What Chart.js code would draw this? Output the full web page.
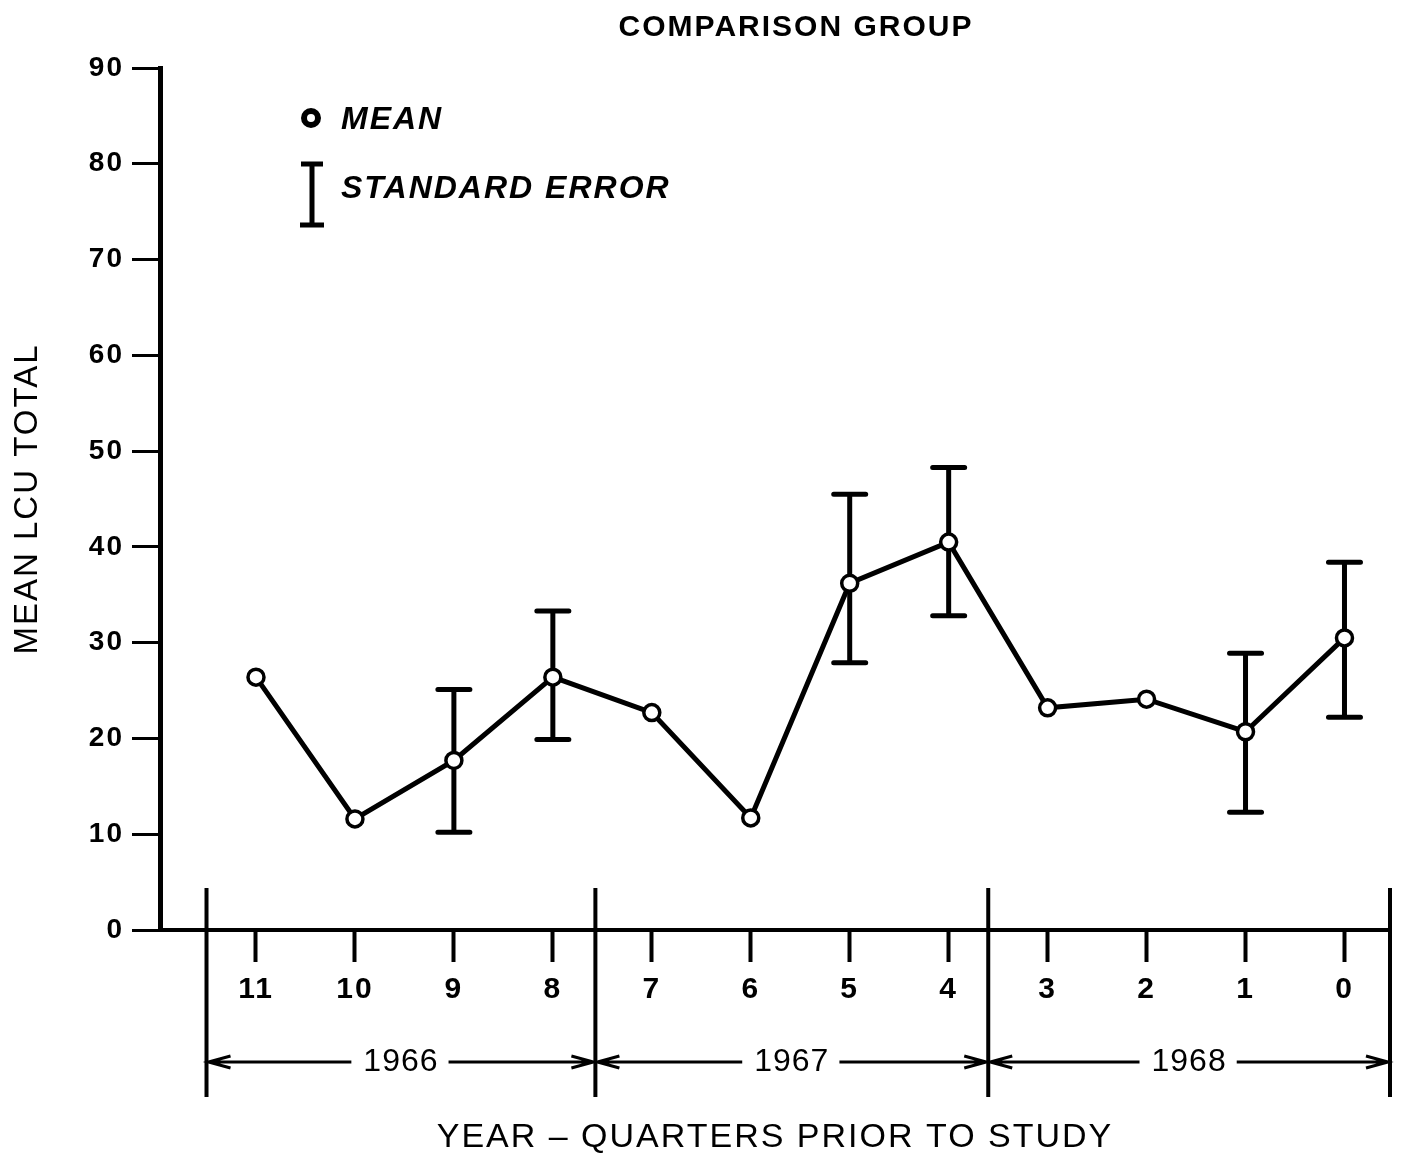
<!DOCTYPE html>
<html>
<head>
<meta charset="utf-8">
<script src="https://cdn.jsdelivr.net/npm/chart.js@4/dist/chart.umd.min.js"></script>
<style>
  html, body { margin: 0; padding: 0; background: #fff; }
  canvas { display: block; }
</style>
</head>
<body>
<canvas id="chart" width="1402" height="1160"></canvas>
<script>
// quarters prior to study, left to right
const quarters = ['11', '10', '9', '8', '7', '6', '5', '4', '3', '2', '1', '0'];
const means  = [26.4, 11.6, 17.7, 26.4, 22.7, 11.7, 36.2, 40.5, 23.2, 24.1, 20.7, 30.5];
const seHigh = [null, null, 25.1, 33.3, null, null, 45.5, 48.3, null, null, 28.9, 38.4];
const seLow  = [null, null, 10.2, 19.9, null, null, 27.9, 32.8, null, null, 12.3, 22.2];
const years = ['1966', '1967', '1968'];
const yearBounds = [-0.5, 3.43, 7.4, 11.46];

const FONT = '"Liberation Sans", Arial, sans-serif';
Chart.defaults.font.family = FONT;
Chart.defaults.color = '#000';

const paperPlugin = {
  id: 'paper',
  beforeLayout(chart) { chart.ctx.letterSpacing = '2px'; },
  beforeDraw(chart) {
    const ctx = chart.ctx;
    ctx.letterSpacing = '2px';
    ctx.save();
    ctx.fillStyle = '#fff';
    ctx.fillRect(0, 0, chart.width, chart.height);
    ctx.restore();
  },
  beforeDatasetsDraw(chart) {
    // standard error bars
    const ctx = chart.ctx;
    const x = chart.scales.x, y = chart.scales.y;
    ctx.save();
    ctx.strokeStyle = '#000';
    ctx.lineWidth = 5;
    ctx.lineCap = 'round';
    seHigh.forEach((hi, i) => {
      if (hi == null) return;
      const px = x.getPixelForValue(i);
      const top = y.getPixelForValue(hi);
      const bot = y.getPixelForValue(seLow[i]);
      ctx.beginPath();
      ctx.moveTo(px, top); ctx.lineTo(px, bot);
      ctx.moveTo(px - 16, top); ctx.lineTo(px + 16, top);
      ctx.moveTo(px - 16, bot); ctx.lineTo(px + 16, bot);
      ctx.stroke();
    });
    ctx.restore();
  },
  afterDraw(chart) {
    const ctx = chart.ctx;
    const x = chart.scales.x;
    ctx.save();
    ctx.fillStyle = '#000';
    ctx.strokeStyle = '#000';

    // title
    ctx.letterSpacing = '2px';
    ctx.font = 'bold 30px ' + FONT;
    ctx.textAlign = 'center';
    ctx.textBaseline = 'middle';
    ctx.fillText('COMPARISON GROUP', 796, 28);

    // legend
    ctx.lineWidth = 6;
    ctx.fillStyle = '#fff';
    ctx.beginPath();
    ctx.arc(311, 118, 7, 0, Math.PI * 2);
    ctx.fill(); ctx.stroke();
    ctx.fillStyle = '#000';
    ctx.lineWidth = 5;
    ctx.beginPath();
    ctx.moveTo(312, 164); ctx.lineTo(312, 225);
    ctx.moveTo(301, 164); ctx.lineTo(323, 164);
    ctx.moveTo(300, 225); ctx.lineTo(324, 225);
    ctx.stroke();
    ctx.font = 'italic bold 32px ' + FONT;
    ctx.textAlign = 'left';
    ctx.fillText('MEAN', 341, 120);
    ctx.fillText('STANDARD ERROR', 341, 189);

    // year brackets
    const rowY = 1062;
    ctx.lineWidth = 4;
    ctx.beginPath();
    yearBounds.forEach(b => {
      const px = x.getPixelForValue(b);
      ctx.moveTo(px, 888); ctx.lineTo(px, 1097);
    });
    ctx.stroke();

    ctx.letterSpacing = '1px';
    ctx.font = '32px ' + FONT;
    ctx.textAlign = 'center';
    ctx.lineWidth = 3;
    years.forEach((yr, k) => {
      const x0 = x.getPixelForValue(yearBounds[k]) + 2;
      const x1 = x.getPixelForValue(yearBounds[k + 1]) - 2;
      const cx = (x0 + x1) / 2;
      const w = ctx.measureText(yr).width;
      ctx.fillText(yr, cx, rowY);
      ctx.beginPath();
      ctx.moveTo(x0, rowY); ctx.lineTo(cx - w / 2 - 12, rowY);
      ctx.moveTo(cx + w / 2 + 10, rowY); ctx.lineTo(x1, rowY);
      ctx.moveTo(x0 + 22, rowY - 6); ctx.lineTo(x0, rowY); ctx.lineTo(x0 + 22, rowY + 6);
      ctx.moveTo(x1 - 22, rowY - 6); ctx.lineTo(x1, rowY); ctx.lineTo(x1 - 22, rowY + 6);
      ctx.stroke();
    });
    ctx.restore();
  }
};

new Chart(document.getElementById('chart'), {
  type: 'line',
  data: {
    datasets: [{
      label: 'MEAN',
      data: means.map((v, i) => ({ x: i, y: v })),
      borderColor: '#000',
      borderWidth: 5,
      tension: 0,
      pointRadius: 8,
      pointBorderWidth: 3.5,
      pointBackgroundColor: '#fff',
      pointBorderColor: '#000'
    }]
  },
  options: {
    responsive: false,
    animation: false,
    layout: { padding: { top: 68, right: 12, bottom: 0, left: 0 } },
    plugins: {
      legend: { display: false },
      tooltip: { enabled: false }
    },
    scales: {
      x: {
        type: 'linear',
        min: -0.97,
        max: 11.46,
        afterBuildTicks(s) { s.ticks = quarters.map((q, i) => ({ value: i })); },
        afterFit(s) { s.height = 230; },
        ticks: {
          autoSkip: false,
          maxRotation: 0,
          callback: (v) => quarters[v],
          color: '#000',
          font: { size: 30, weight: 'bold' },
          padding: 10
        },
        grid: { drawOnChartArea: false, color: '#000', tickLength: 32, tickWidth: 4 },
        border: { color: '#000', width: 4 },
        title: {
          display: true,
          text: 'YEAR – QUARTERS PRIOR TO STUDY',
          color: '#000',
          font: { size: 34 },
          padding: { top: 0, bottom: 2 }
        }
      },
      y: {
        type: 'linear',
        min: 0,
        max: 90,
        afterFit(s) { s.width = 160; },
        ticks: {
          stepSize: 10,
          color: '#000',
          font: { size: 28, weight: 'bold' },
          padding: 8
        },
        grid: { drawOnChartArea: false, color: '#000', tickLength: 28, tickWidth: 3 },
        border: { color: '#000', width: 5 },
        title: {
          display: true,
          text: 'MEAN LCU TOTAL',
          color: '#000',
          font: { size: 33 },
          padding: { top: 8, bottom: 0 }
        }
      }
    }
  },
  plugins: [paperPlugin]
});
</script>
</body>
</html>
